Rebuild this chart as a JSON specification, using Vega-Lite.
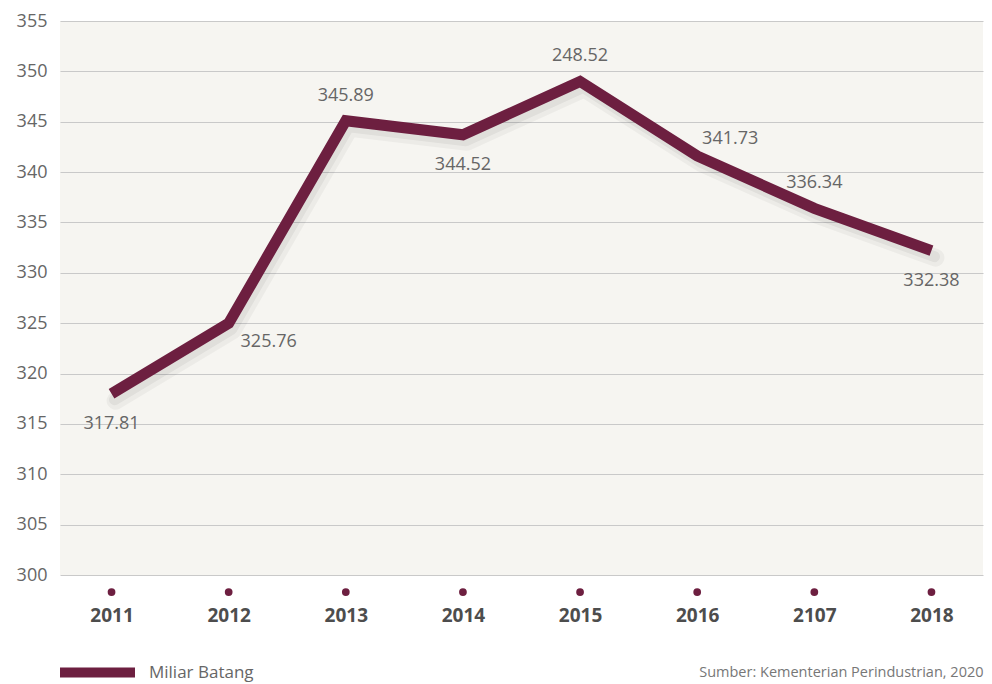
{
  "$schema": "https://vega.github.io/schema/vega-lite/v6.json",
  "width": 923,
  "height": 554,
  "autosize": {"type": "none"},
  "padding": {"left": 60, "top": 21, "right": 9, "bottom": 109},
  "background": "#ffffff",
  "config": {"view": {"fill": "#f6f5f1", "stroke": null}, "font": "Open Sans"},
  "data": {
    "values": [
      {"year": "2011", "value": 318.0, "label": "317.81"},
      {"year": "2012", "value": 325.0, "label": "325.76"},
      {"year": "2013", "value": 345.1, "label": "345.89"},
      {"year": "2014", "value": 343.7, "label": "344.52"},
      {"year": "2015", "value": 349.0, "label": "248.52"},
      {"year": "2016", "value": 341.6, "label": "341.73"},
      {"year": "2107", "value": 336.4, "label": "336.34"},
      {"year": "2018", "value": 332.2, "label": "332.38"}
    ]
  },
  "encoding": {
    "x": {
      "field": "year",
      "type": "ordinal",
      "sort": null,
      "scale": {"type": "point", "padding": 0.44},
      "axis": {
        "title": "Sumber: Kementerian Perindustrian, 2020",
        "titleAnchor": "end",
        "titleAlign": "right",
        "titleBaseline": "middle",
        "titleX": 923,
        "titleY": 97,
        "titleFontSize": 14.5,
        "titleFontWeight": "normal",
        "titleColor": "#777777",
        "labelAngle": 0,
        "labelFontSize": 19,
        "labelFontWeight": "bold",
        "labelColor": "#4d4d4d",
        "labelPadding": 31,
        "ticks": false,
        "domain": false,
        "grid": false
      }
    }
  },
  "layer": [
    {
      "mark": {"type": "line", "strokeWidth": 18, "strokeJoin": "round", "strokeCap": "round", "color": "#000000", "opacity": 0.04, "xOffset": 4, "yOffset": 7},
      "encoding": {
        "y": {"field": "value", "type": "quantitative"}
      }
    },
    {
      "mark": {"type": "line", "strokeWidth": 11, "strokeJoin": "round", "strokeCap": "round", "color": "#000000", "opacity": 0.05, "xOffset": 3, "yOffset": 6},
      "encoding": {
        "y": {"field": "value", "type": "quantitative"}
      }
    },
    {
      "mark": {"type": "line", "strokeWidth": 11, "strokeJoin": "miter", "strokeCap": "butt"},
      "encoding": {
        "y": {
          "field": "value",
          "type": "quantitative",
          "scale": {"domain": [300, 355], "nice": false, "zero": false},
          "axis": {
            "title": null,
            "values": [300, 305, 310, 315, 320, 325, 330, 335, 340, 345, 350, 355],
            "grid": true,
            "gridColor": "#c9c9c9",
            "gridWidth": 1,
            "domain": false,
            "ticks": false,
            "labelPadding": 13,
            "labelFontSize": 18,
            "labelColor": "#666666"
          }
        },
        "color": {
          "datum": "Miliar Batang",
          "type": "nominal",
          "scale": {"range": ["#6d1f40"]},
          "legend": {
            "title": null,
            "orient": "none",
            "legendX": -5,
            "legendY": 609,
            "symbolType": "stroke",
            "symbolSize": 5625,
            "symbolStrokeWidth": 10,
            "labelFontSize": 17,
            "labelColor": "#666666",
            "labelOffset": 9
          }
        }
      }
    },
    {
      "mark": {"type": "point", "filled": true, "size": 60, "color": "#6d1f40", "opacity": 1},
      "encoding": {"y": {"datum": 298.3, "type": "quantitative"}}
    },
    {
      "transform": [{"filter": {"field": "year", "oneOf": ["2013", "2015", "2107"]}}],
      "mark": {"type": "text", "fontSize": 18, "color": "#666666", "dy": -25},
      "encoding": {"y": {"field": "value", "type": "quantitative"}, "text": {"field": "label"}}
    },
    {
      "transform": [{"filter": {"field": "year", "oneOf": ["2016"]}}],
      "mark": {"type": "text", "fontSize": 18, "color": "#666666", "dy": -17, "dx": 33},
      "encoding": {"y": {"field": "value", "type": "quantitative"}, "text": {"field": "label"}}
    },
    {
      "transform": [{"filter": {"field": "year", "oneOf": ["2011", "2014", "2018"]}}],
      "mark": {"type": "text", "fontSize": 18, "color": "#666666", "dy": 30},
      "encoding": {"y": {"field": "value", "type": "quantitative"}, "text": {"field": "label"}}
    },
    {
      "transform": [{"filter": {"field": "year", "oneOf": ["2012"]}}],
      "mark": {"type": "text", "fontSize": 18, "color": "#666666", "dy": 19, "dx": 40},
      "encoding": {"y": {"field": "value", "type": "quantitative"}, "text": {"field": "label"}}
    }
  ]
}
